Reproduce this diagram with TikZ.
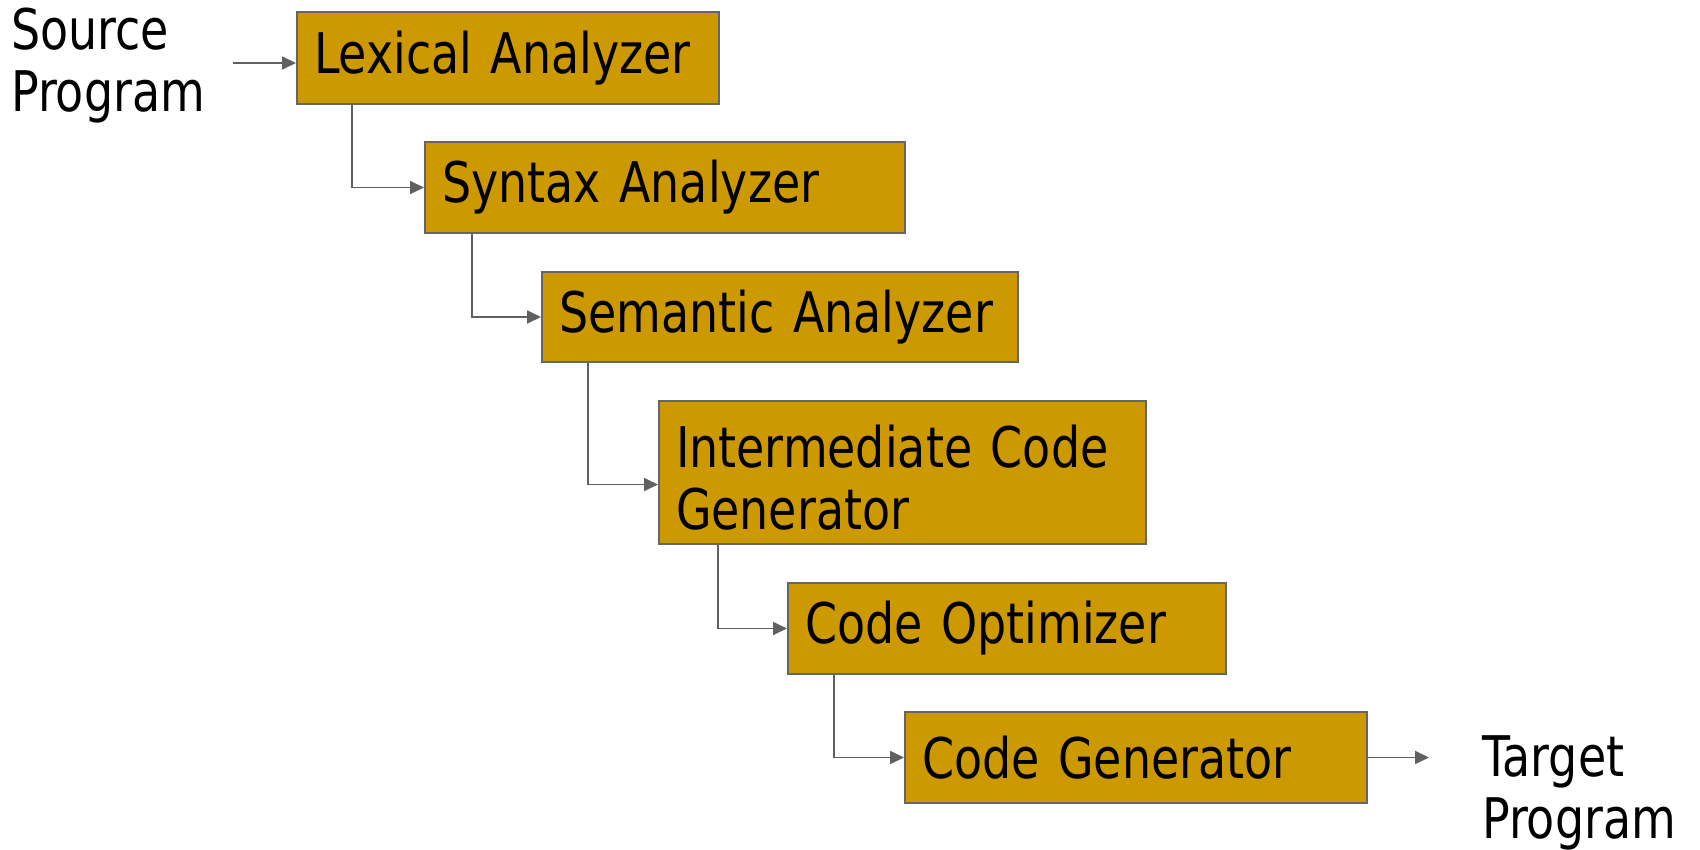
\documentclass[tikz,border=0pt]{standalone}
\usepackage{fontspec}
\usetikzlibrary{arrows.meta,positioning}

\newfontfamily\phasefamily{DejaVu Sans}[FakeStretch=0.82]
\newcommand{\phasefont}{\phasefamily\fontsize{56}{62}\selectfont}

\definecolor{gold}{RGB}{204,153,0}
\definecolor{boxline}{RGB}{102,102,102}
\definecolor{flowgray}{RGB}{96,96,96}

\tikzset{
  phase/.style={draw=boxline, fill=gold, line width=2pt, anchor=north west,
    minimum height=92pt, inner xsep=17pt, inner ysep=0pt, align=left, font=\phasefont},
  io/.style={anchor=north west, inner sep=0pt, align=left, font=\phasefont},
  flow/.style={draw=flowgray, line width=1.8pt, -{Triangle[length=14pt,width=13pt]}}
}

\begin{document}
\begin{tikzpicture}[x=1pt,y=-1pt]
\useasboundingbox (0,0) rectangle (1700,849);

\node[io] (src) at (11,8) {Source\\Program};

\node[phase, text width=388pt] (lex) at (296,11) {Lexical Analyzer};
\node[phase, text width=446pt, minimum height=91pt] (syn) at (424,141) {Syntax Analyzer};
\node[phase, text width=442pt, minimum height=90pt] (sem) at (541,271) {Semantic Analyzer};
\node[phase, text width=453pt, minimum height=143pt] (icg) at (658,400) {\rule{0pt}{52pt}Intermediate Code\\Generator};
\node[phase, text width=404pt, minimum height=91pt] (opt) at (787,582) {Code Optimizer};
\node[phase, text width=428pt, minimum height=91pt] (gen) at (904,711) {Code Generator};

\node[io] (tgt) at (1482,735) {Target\\Program};

\coordinate (srcin) at (233,63);
\coordinate (tgtout) at (1429,756);

\draw[flow] (srcin) -- (srcin -| lex.west);
\draw[flow] ([xshift=56pt]lex.south west) |- (syn.west);
\draw[flow] ([xshift=48pt]syn.south west) |- (sem.west);
\draw[flow] ([xshift=47pt]sem.south west) |- ([yshift=-12pt]icg.west);
\draw[flow] ([xshift=60pt]icg.south west) |- (opt.west);
\draw[flow] ([xshift=47pt]opt.south west) |- (gen.west);
\draw[flow] (gen.east) -- (gen.east -| tgtout);
\end{tikzpicture}
\end{document}
